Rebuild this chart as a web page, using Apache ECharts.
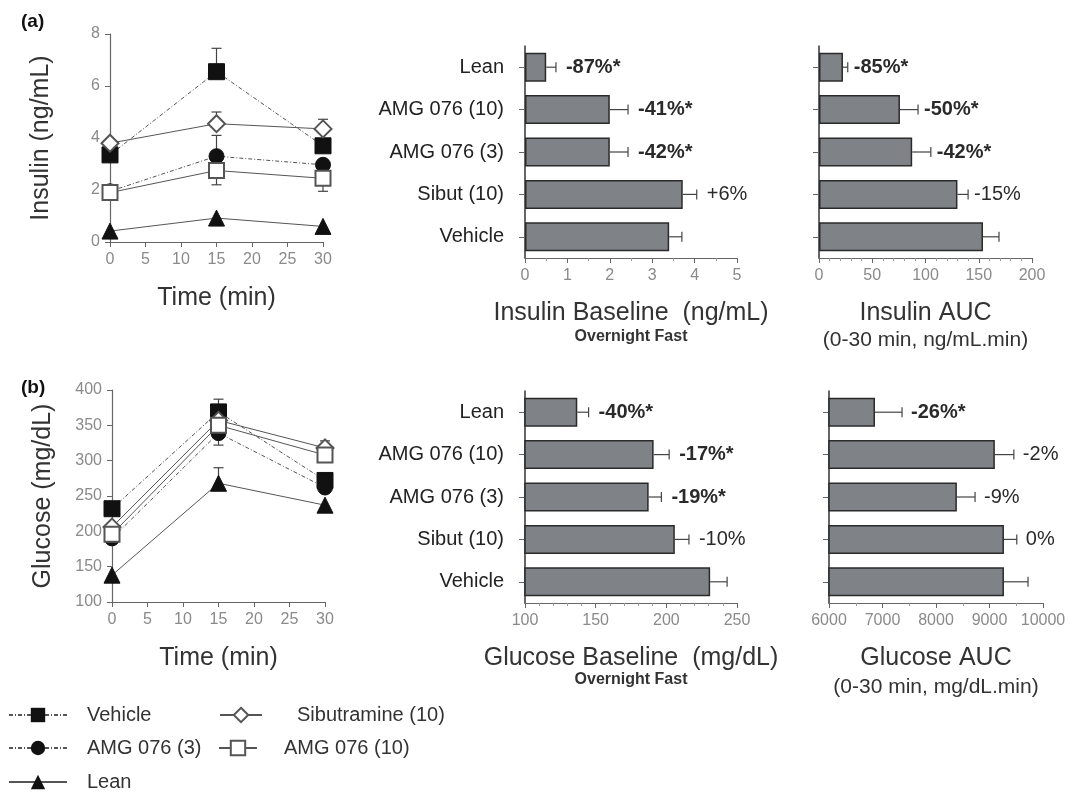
<!DOCTYPE html>
<html><head><meta charset="utf-8">
<script src="https://cdn.jsdelivr.net/npm/echarts@6/dist/echarts.min.js"></script>
<style>html,body{margin:0;padding:0;background:#fff}#c{width:1072px;height:796px}</style>
</head><body><div id="c"></div>
<script>
// ---------- data ----------
const times = [0, 15, 30];
// Insulin (ng/mL) time course
const insVehicle = [3.35, 6.55, 3.7];
const insAmg3 = [1.95, 3.3, 2.97];
const insLean = [0.42, 0.92, 0.6];
const insSibut = [3.8, 4.55, 4.35];
const insAmg10 = [1.9, 2.75, 2.45];
// error-bar ends for insulin time course: [time, mean, end]
const insErr = [[15, 6.55, 7.45], [15, 4.55, 5.0], [30, 4.35, 4.72], [15, 3.3, 4.1], [15, 2.75, 2.2], [30, 2.45, 1.95], [0, 1.9, 1.6]];
// Glucose (mg/dL) time course
const gluVehicle = [232, 369, 272];
const gluAmg3 = [190, 339, 262];
const gluLean = [138, 268, 237];
const gluSibut = [206, 357, 318];
const gluAmg10 = [196, 350, 308];
const gluErr = [[15, 369, 387], [15, 339, 322], [15, 268, 290], [30, 318, 328], [30, 308, 300]];

const barCats = ['Lean', 'AMG 076 (10)', 'AMG 076 (3)', 'Sibut (10)', 'Vehicle'];
const insBase = [0.5, 2.0, 2.0, 3.72, 3.4];
const insBaseErr = [0.73, 2.43, 2.43, 4.05, 3.7];
const insBaseLbl = ['-87%*', '-41%*', '-42%*', '+6%', ''];
const insAuc = [22.5, 76, 87.5, 130, 154];
const insAucErr = [27, 93, 105, 140, 169];
const insAucLbl = ['-85%*', '-50%*', '-42%*', '-15%', ''];
const gluBase = [137, 191, 187.5, 206, 231];
const gluBaseErr = [145, 202, 196.5, 216, 243];
const gluBaseLbl = ['-40%*', '-17%*', '-19%*', '-10%', ''];
const gluAuc = [6860, 9100, 8390, 9270, 9270];
const gluAucErr = [7365, 9455, 8730, 9510, 9720];
const gluAucLbl = ['-26%*', '-2%', '-9%', '0%', ''];

// ---------- helpers ----------
const FONT = 'Arial, "Liberation Sans", sans-serif';
const TXT = '#333';
const TICK = '#8a8a8a';
const AX = '#666';

function pts(vals) { return times.map((t, i) => [t, vals[i]]); }

function lineSeries(name, vals, gi, opt) {
  return Object.assign({
    type: 'line', name: name, xAxisIndex: gi, yAxisIndex: gi,
    data: pts(vals), z: 5,
    lineStyle: { color: '#555', width: 1 },
    itemStyle: { color: '#111', borderColor: '#111' },
    emphasis: { disabled: true }
  }, opt);
}

function lineErr(arr, gi) {
  return {
    type: 'custom', xAxisIndex: gi, yAxisIndex: gi, data: arr, z: 4, silent: true,
    renderItem: function (params, api) {
      const a = api.coord([api.value(0), api.value(1)]);
      const b = api.coord([api.value(0), api.value(2)]);
      return { type: 'group', children: [
        { type: 'line', shape: { x1: a[0], y1: a[1], x2: b[0], y2: b[1] }, style: { stroke: '#444', lineWidth: 1.2 } },
        { type: 'line', shape: { x1: b[0] - 5, y1: b[1], x2: b[0] + 5, y2: b[1] }, style: { stroke: '#444', lineWidth: 1.2 } }
      ] };
    }
  };
}

function barSeries(vals, gi) {
  return {
    type: 'bar', xAxisIndex: gi, yAxisIndex: gi, data: vals, barWidth: 29, z: 2, silent: true,
    itemStyle: { color: '#7f8286', borderColor: '#2a2a2a', borderWidth: 1.5 }
  };
}

function barErr(means, ends, labels, gi, off) {
  return {
    type: 'custom', xAxisIndex: gi, yAxisIndex: gi, z: 3, silent: true,
    data: means.map((m, i) => [m, i, ends[i]]),
    renderItem: function (params, api) {
      const a = api.coord([api.value(0), api.value(1)]);
      const b = api.coord([api.value(2), api.value(1)]);
      const lbl = labels[params.dataIndex];
      const ch = [
        { type: 'line', shape: { x1: a[0], y1: a[1], x2: b[0], y2: b[1] }, style: { stroke: '#444', lineWidth: 1.2 } },
        { type: 'line', shape: { x1: b[0], y1: b[1] - 5, x2: b[0], y2: b[1] + 5 }, style: { stroke: '#444', lineWidth: 1.2 } }
      ];
      if (lbl) {
        ch.push({ type: 'text', x: b[0] + off, y: b[1], style: {
          text: lbl, fill: '#2a2a2a', font: (lbl.indexOf('*') >= 0 ? 'bold ' : '') + '20px ' + FONT,
          verticalAlign: 'middle', align: 'left' } });
      }
      return { type: 'group', children: ch };
    }
  };
}

function valueAxisLine(gi, min, max, interval, name, rotateName, nameGap) {
  return {
    type: 'value', gridIndex: gi, min: min, max: max, interval: interval,
    splitLine: { show: false },
    axisLine: { show: true, lineStyle: { color: AX, width: 1.2 } },
    axisTick: { show: true, length: 5, lineStyle: { color: AX } },
    axisLabel: { color: TICK, fontSize: 16, fontFamily: FONT, margin: 10 },
    name: name, nameLocation: 'middle', nameGap: nameGap, nameRotate: rotateName ? 90 : 0,
    nameTextStyle: { color: TXT, fontSize: 25, fontFamily: FONT }
  };
}

function barValueAxis(gi, min, max, interval, minorSplit, title, sub, subSize, subBold, subLH) {
  return {
    type: 'value', gridIndex: gi, min: min, max: max, interval: interval,
    splitLine: { show: false },
    axisLine: { show: true, lineStyle: { color: AX, width: 1.2 } },
    axisTick: { show: true, length: 5, lineStyle: { color: AX } },
    minorTick: { show: true, splitNumber: minorSplit, length: 3, lineStyle: { color: '#999' } },
    axisLabel: { color: TICK, fontSize: 16, fontFamily: FONT, margin: 10, formatter: function (v) { return String(v); } },
    name: '{a|' + title + '}\n{b|' + sub + '}', nameLocation: 'middle', nameGap: 41,
    nameTextStyle: { rich: {
      a: { color: TXT, fontSize: 25, fontFamily: FONT, lineHeight: 28 },
      b: { color: TXT, fontSize: subSize, fontFamily: FONT, lineHeight: subLH, fontWeight: subBold ? 'bold' : 'normal' }
    } }
  };
}

function catAxis(gi, showLabels) {
  return {
    type: 'category', gridIndex: gi, data: barCats, inverse: true,
    axisLine: { show: true, lineStyle: { color: '#333', width: 1.5 } },
    axisTick: { show: true, alignWithLabel: true, length: 6, lineStyle: { color: '#666' } },
    axisLabel: { show: showLabels, color: '#222', fontSize: 20, fontFamily: FONT, margin: 21 }
  };
}

const grids = [
  { left: 110, top: 34, width: 213, height: 208 },
  { left: 525, top: 46, width: 212, height: 212 },
  { left: 819, top: 46, width: 213, height: 212 },
  { left: 112, top: 390, width: 213, height: 212 },
  { left: 525, top: 391, width: 212, height: 212 },
  { left: 829, top: 391, width: 214, height: 212 }
];

const xAxes = [
  valueAxisLine(0, 0, 30, 5, 'Time (min)', false, 44),
  barValueAxis(1, 0, 5, 1, 2, 'Insulin Baseline  (ng/mL)', 'Overnight Fast', 16, true, 20),
  barValueAxis(2, 0, 200, 50, 5, 'Insulin AUC', '(0-30 min, ng/mL.min)', 21, false, 26),
  valueAxisLine(3, 0, 30, 5, 'Time (min)', false, 44),
  barValueAxis(4, 100, 250, 50, 5, 'Glucose Baseline  (mg/dL)', 'Overnight Fast', 16, true, 16),
  barValueAxis(5, 6000, 10000, 1000, 2, 'Glucose AUC', '(0-30 min, mg/dL.min)', 21, false, 30)
];
const yAxes = [
  valueAxisLine(0, 0, 8, 2, 'Insulin (ng/mL)', true, 56),
  catAxis(1, true),
  catAxis(2, false),
  valueAxisLine(3, 100, 400, 50, 'Glucose (mg/dL)', true, 56),
  catAxis(4, true),
  catAxis(5, false)
];

const dashed = { color: '#555', width: 1, type: [4, 2, 1, 2] };
const series = [
  lineSeries('Vehicle', insVehicle, 0, { symbol: 'rect', symbolSize: 16, lineStyle: dashed }),
  lineSeries('AMG 076 (3)', insAmg3, 0, { symbol: 'circle', symbolSize: 15, lineStyle: dashed }),
  lineSeries('Lean', insLean, 0, { symbol: 'triangle', symbolSize: 16 }),
  lineSeries('Sibutramine (10)', insSibut, 0, { symbol: 'emptyDiamond', symbolSize: 17, itemStyle: { color: '#555' } }),
  lineSeries('AMG 076 (10)', insAmg10, 0, { symbol: 'emptyRect', symbolSize: 15, itemStyle: { color: '#555' } }),
  lineErr(insErr, 0),
  lineSeries('Vehicle', gluVehicle, 3, { symbol: 'rect', symbolSize: 16, lineStyle: dashed }),
  lineSeries('AMG 076 (3)', gluAmg3, 3, { symbol: 'circle', symbolSize: 15, lineStyle: dashed }),
  lineSeries('Lean', gluLean, 3, { symbol: 'triangle', symbolSize: 16 }),
  lineSeries('Sibutramine (10)', gluSibut, 3, { symbol: 'emptyDiamond', symbolSize: 17, itemStyle: { color: '#555' } }),
  lineSeries('AMG 076 (10)', gluAmg10, 3, { symbol: 'emptyRect', symbolSize: 15, itemStyle: { color: '#555' } }),
  lineErr(gluErr, 3),
  barSeries(insBase, 1), barErr(insBase, insBaseErr, insBaseLbl, 1, 10),
  barSeries(insAuc, 2), barErr(insAuc, insAucErr, insAucLbl, 2, 6),
  barSeries(gluBase, 4), barErr(gluBase, gluBaseErr, gluBaseLbl, 4, 10),
  barSeries(gluAuc, 5), barErr(gluAuc, gluAucErr, gluAucLbl, 5, 9)
];

const legendText = { color: TXT, fontSize: 20, fontFamily: FONT };
function leg(name, left, top, w, pad) {
  return { data: [name], orient: 'horizontal', left: left, top: top, itemWidth: w, itemHeight: 18,
    textStyle: Object.assign({ padding: [0, 0, 0, pad] }, legendText), selectedMode: false };
}
const option = {
  animation: false,
  backgroundColor: '#fff',
  title: [
    { text: '(a)', left: 16, top: 7, textStyle: { fontSize: 19, fontWeight: 'bold', color: '#111', fontFamily: FONT } },
    { text: '(b)', left: 16, top: 373, textStyle: { fontSize: 19, fontWeight: 'bold', color: '#111', fontFamily: FONT } }
  ],
  legend: [
    leg('Vehicle', 3, 700, 58, 15),
    leg('AMG 076 (3)', 3, 733, 58, 15),
    leg('Lean', 3, 767, 58, 15),
    leg('Sibutramine (10)', 214, 700, 42, 30),
    leg('AMG 076 (10)', 213, 733, 38, 22)
  ],
  grid: grids,
  xAxis: xAxes,
  yAxis: yAxes,
  series: series
};
const chart = echarts.init(document.getElementById('c'), null, { renderer: 'canvas' });
chart.setOption(option);
</script></body></html>
